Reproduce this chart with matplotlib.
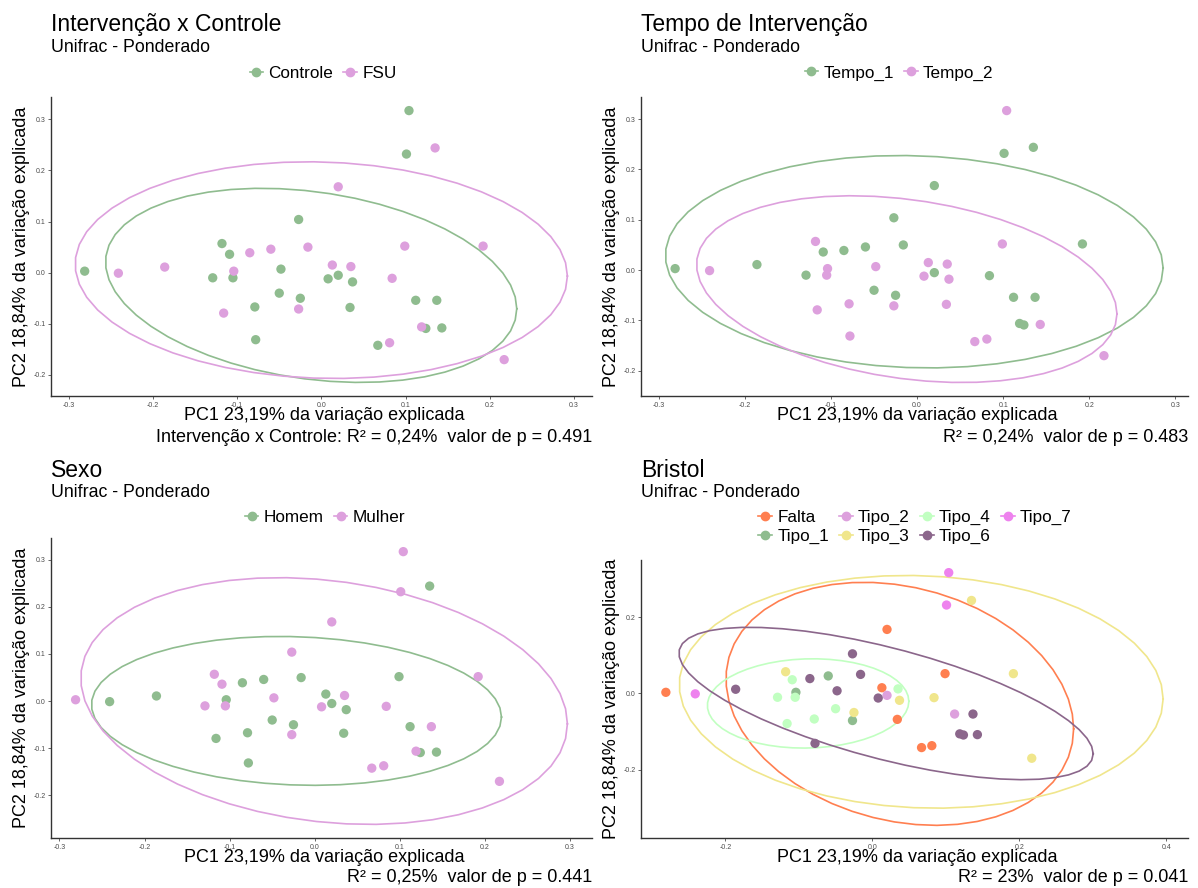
import numpy as np
import matplotlib
matplotlib.use('Agg')
import matplotlib.pyplot as plt
from matplotlib.lines import Line2D
from matplotlib.ticker import MultipleLocator, FormatStrFormatter

plt.rcParams['font.family'] = ['Liberation Sans', 'DejaVu Sans']

# coordenadas PCoA (Unifrac ponderado), uma amostra por posição
pc1 = [-0.281, 0.104, 0.101, -0.027, -0.118, -0.109, -0.129, -0.105, -0.048, -0.050,
       -0.025, -0.079, -0.078, 0.008, 0.020, 0.037, 0.034, 0.067, 0.112, 0.137,
       0.124, 0.143, 0.135, 0.020, -0.241, -0.186, -0.104, -0.085, -0.060, -0.016,
       0.013, 0.035, 0.099, 0.192, 0.084, -0.116, -0.027, 0.119, 0.081, 0.217]
pc2 = [0.003, 0.317, 0.232, 0.104, 0.057, 0.036, -0.010, -0.010, 0.007, -0.040,
       -0.050, -0.067, -0.131, -0.012, -0.005, -0.018, -0.068, -0.142, -0.054, -0.054,
       -0.109, -0.108, 0.244, 0.168, -0.001, 0.011, 0.003, 0.039, 0.046, 0.050,
       0.015, 0.012, 0.052, 0.052, -0.011, -0.079, -0.071, -0.106, -0.137, -0.170]

grupo = ['Controle'] * 22 + ['FSU'] * 18
tempo = ['Tempo_1', 'Tempo_2', 'Tempo_1', 'Tempo_1', 'Tempo_2', 'Tempo_1', 'Tempo_1', 'Tempo_2',
         'Tempo_2', 'Tempo_1', 'Tempo_1', 'Tempo_2', 'Tempo_2', 'Tempo_2', 'Tempo_1', 'Tempo_2',
         'Tempo_2', 'Tempo_2', 'Tempo_1', 'Tempo_1', 'Tempo_1', 'Tempo_2', 'Tempo_1', 'Tempo_1',
         'Tempo_2', 'Tempo_1', 'Tempo_2', 'Tempo_1', 'Tempo_1', 'Tempo_1', 'Tempo_2', 'Tempo_2',
         'Tempo_2', 'Tempo_1', 'Tempo_1', 'Tempo_2', 'Tempo_2', 'Tempo_1', 'Tempo_2', 'Tempo_2']
sexo = ['Mulher', 'Mulher', 'Mulher', 'Mulher', 'Mulher', 'Mulher', 'Mulher', 'Mulher',
        'Mulher', 'Homem', 'Homem', 'Homem', 'Homem', 'Mulher', 'Homem', 'Homem',
        'Homem', 'Mulher', 'Homem', 'Mulher', 'Homem', 'Homem', 'Homem', 'Mulher',
        'Homem', 'Homem', 'Homem', 'Homem', 'Homem', 'Homem', 'Homem', 'Mulher',
        'Homem', 'Mulher', 'Mulher', 'Homem', 'Mulher', 'Mulher', 'Mulher', 'Mulher']
bristol = ['Falta', 'Tipo_7', 'Tipo_7', 'Tipo_6', 'Tipo_3', 'Tipo_4', 'Tipo_4', 'Tipo_4',
           'Tipo_6', 'Tipo_4', 'Tipo_3', 'Tipo_4', 'Tipo_6', 'Tipo_6', 'Tipo_2', 'Tipo_3',
           'Falta', 'Falta', 'Tipo_2', 'Tipo_6', 'Tipo_6', 'Tipo_6', 'Tipo_3', 'Falta',
           'Tipo_7', 'Tipo_6', 'Tipo_1', 'Tipo_6', 'Tipo_1', 'Tipo_6', 'Falta', 'Tipo_4',
           'Falta', 'Tipo_3', 'Tipo_3', 'Tipo_4', 'Tipo_1', 'Tipo_6', 'Falta', 'Tipo_3']

cores = {'Controle': '#8FBC8F', 'FSU': '#DDA0DD',
         'Tempo_1': '#8FBC8F', 'Tempo_2': '#DDA0DD',
         'Homem': '#8FBC8F', 'Mulher': '#DDA0DD',
         'Falta': '#FF7F50', 'Tipo_1': '#8FBC8F', 'Tipo_2': '#DDA0DD', 'Tipo_3': '#F0E68C',
         'Tipo_4': '#C1FFC1', 'Tipo_6': '#8B668B', 'Tipo_7': '#EE82EE'}

W, H = 1198, 888


def fx(x):
    return x / W


def fy(y):
    return 1 - y / H


def cov_trob(xy, nu=5, maxit=25, tol=0.01):
    # same steps as MASS::cov.trob (used by ggplot stat_ellipse)
    n, p = xy.shape
    loc = xy.mean(axis=0)
    w = np.ones(n)
    for _ in range(maxit):
        w0 = w
        X = xy - loc
        u, d, vt = np.linalg.svd(np.sqrt(w / w.sum())[:, None] * X, full_matrices=False)
        wX = X @ vt.T @ np.diag(1.0 / d)
        Q = (wX ** 2).sum(axis=1)
        w = (nu + p) / (nu + Q)
        loc = (w[:, None] * xy).sum(axis=0) / w.sum()
        if np.all(np.abs(w - w0) < tol):
            break
    sw = np.sqrt(w)[:, None] * X
    return loc, sw.T @ sw / n


def elipse(xy, level=0.95, segments=51):
    loc, cov = cov_trob(xy)
    dfd = len(xy) - 1
    q = dfd / 2.0 * ((1 - level) ** (-2.0 / dfd) - 1)  # qf(level, 2, dfd)
    radius = np.sqrt(2 * q)
    ang = np.arange(segments + 1) * 2 * np.pi / segments
    circ = np.column_stack([np.cos(ang), np.sin(ang)])
    U = np.linalg.cholesky(cov).T
    return loc + radius * circ @ U


fig = plt.figure(figsize=(W / 100, H / 100), dpi=100)

paineis = [
    dict(lab=grupo, niveis=['Controle', 'FSU'], elip=['Controle', 'FSU'],
         box=(51, 97, 592, 396), tit_y=(31, 52), titulo='Intervenção x Controle', leg=(323, 73), ncol=2,
         cap='Intervenção x Controle: R² = 0,24%  valor de p = 0.491', cap_y=438, step=0.1),
    dict(lab=tempo, niveis=['Tempo_1', 'Tempo_2'], elip=['Tempo_1', 'Tempo_2'],
         box=(641, 97, 1188, 396), tit_y=(31, 52), titulo='Tempo de Intervenção', leg=(899, 73), ncol=2,
         cap='R² = 0,24%  valor de p = 0.483', cap_y=438, step=0.1),
    dict(lab=sexo, niveis=['Homem', 'Mulher'], elip=['Homem', 'Mulher'],
         box=(51, 538, 592, 838), tit_y=(477, 497), titulo='Sexo', leg=(325, 517), ncol=2,
         cap='R² = 0,25%  valor de p = 0.441', cap_y=877, step=0.1),
    dict(lab=bristol, niveis=['Falta', 'Tipo_1', 'Tipo_2', 'Tipo_3', 'Tipo_4', 'Tipo_6', 'Tipo_7'],
         elip=['Falta', 'Tipo_3', 'Tipo_4', 'Tipo_6'],
         box=(641, 560, 1188, 838), tit_y=(477, 497), titulo='Bristol', leg=(915, 527), ncol=4,
         cap='R² = 23%  valor de p = 0.041', cap_y=877, step=0.2),
]

x = np.array(pc1)
y = np.array(pc2)

for p in paineis:
    l, t, r, b = p['box']
    ax = fig.add_axes([fx(l), fy(b), (r - l) / W, (b - t) / H])
    lab = np.array(p['lab'])

    allx, ally = list(x), list(y)
    for g in p['elip']:
        m = lab == g
        e = elipse(np.column_stack([x[m], y[m]]))
        ax.plot(e[:, 0], e[:, 1], color=cores[g], lw=1.2, zorder=2)
        allx += list(e[:, 0])
        ally += list(e[:, 1])
    for g in p['niveis']:
        m = lab == g
        ax.scatter(x[m], y[m], s=45, color=cores[g], edgecolors='none', zorder=3)

    x0, x1 = min(allx), max(allx)
    y0, y1 = min(ally), max(ally)
    ax.set_xlim(x0 - 0.05 * (x1 - x0), x1 + 0.05 * (x1 - x0))
    ax.set_ylim(y0 - 0.05 * (y1 - y0), y1 + 0.05 * (y1 - y0))
    ax.xaxis.set_major_locator(MultipleLocator(p['step']))
    ax.yaxis.set_major_locator(MultipleLocator(p['step']))
    ax.xaxis.set_major_formatter(FormatStrFormatter('%.1f'))
    ax.yaxis.set_major_formatter(FormatStrFormatter('%.1f'))
    ax.tick_params(labelsize=5, colors='#4D4D4D', length=2.5, width=0.6, pad=1.5)
    for s in ['top', 'right']:
        ax.spines[s].set_visible(False)
    for s in ['left', 'bottom']:
        ax.spines[s].set_color('#333333')
        ax.spines[s].set_linewidth(1.0)

    fig.text(fx(l), fy(p['tit_y'][0]), p['titulo'], fontsize=16.5, va='baseline', ha='left')
    fig.text(fx(l), fy(p['tit_y'][1]), 'Unifrac - Ponderado', fontsize=12.8, va='baseline', ha='left')
    fig.text(fx(l - 29), fy((t + b) / 2), 'PC2 18,84% da variação explicada',
             fontsize=13, rotation=90, va='center', ha='center')
    fig.text(fx((l + r) / 2 + 3), fy(b + 19), 'PC1 23,19% da variação explicada',
             fontsize=13, va='center', ha='center')
    fig.text(fx(r), fy(p['cap_y']), p['cap'], fontsize=13, va='center', ha='right')

    hs = [Line2D([0], [0], color=cores[g], marker='o', markersize=6, lw=1.2) for g in p['niveis']]
    ax.legend(hs, p['niveis'], loc='center', bbox_to_anchor=(fx(p['leg'][0]), fy(p['leg'][1])),
              bbox_transform=fig.transFigure, ncol=p['ncol'], frameon=False, fontsize=12.3,
              handlelength=0.8, handletextpad=0.3, columnspacing=0.6, labelspacing=0.25,
              borderpad=0)

fig.savefig('out.png', dpi=100)
